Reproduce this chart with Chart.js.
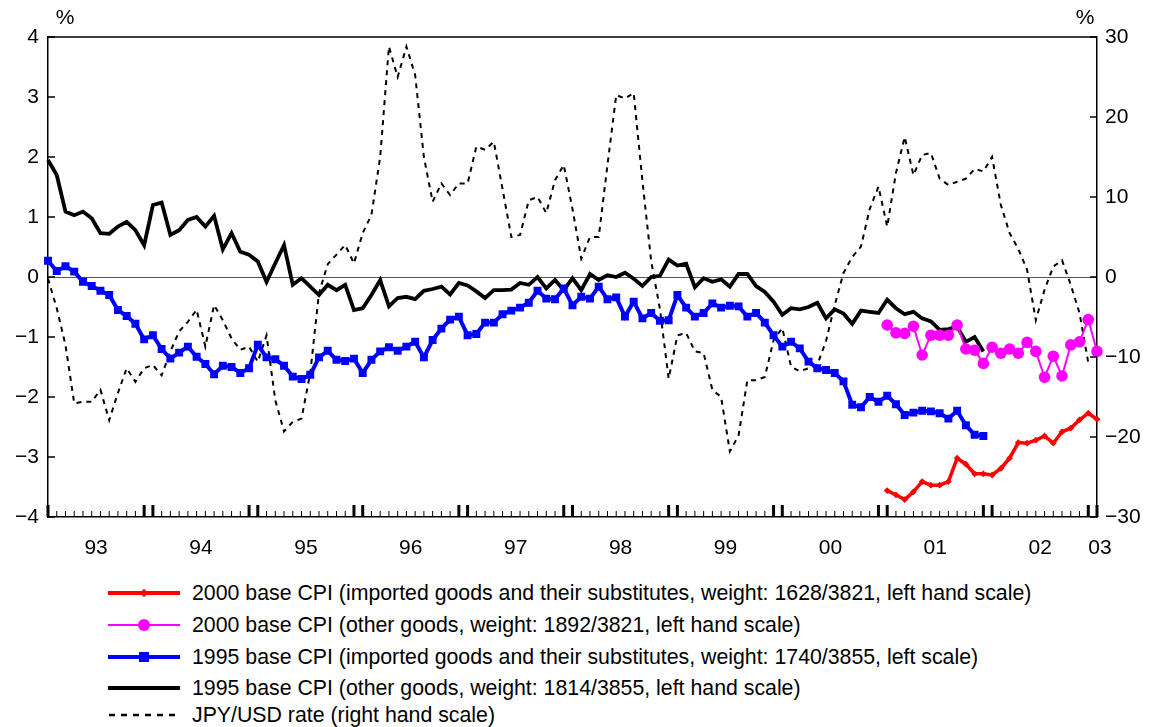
<!DOCTYPE html>
<html>
<head>
<meta charset="utf-8">
<script src="https://cdn.jsdelivr.net/npm/chart.js@4.4.3/dist/chart.umd.min.js"></script>
<style>
  body { margin:0; background:#fff; font-family:"Liberation Sans", Arial, sans-serif; }
  #wrap { position:relative; width:1159px; height:727px; }
  #chart { position:absolute; left:0; top:0; }
  .lg { position:absolute; left:108px; height:24px; display:flex; align-items:center; font-size:21.3px; color:#000; white-space:nowrap; }
  .lg svg { width:74px; height:24px; margin-right:10px; flex:none; }
</style>
</head>
<body>
<div id="wrap">
  <canvas id="chart" width="1159" height="570"></canvas>
  <div class="lg" style="top:581px"><svg viewBox="0 0 74 24"><line x1="0" y1="12" x2="72" y2="12" stroke="#ff0000" stroke-width="4"/><rect x="33" y="9" width="6" height="6" fill="#ff0000" transform="rotate(45 36 12)"/></svg>2000 base CPI (imported goods and their substitutes, weight: 1628/3821, left hand scale)</div>
  <div class="lg" style="top:613px"><svg viewBox="0 0 74 24"><line x1="0" y1="12" x2="72" y2="12" stroke="#ff00ff" stroke-width="2"/><circle cx="36" cy="12" r="6" fill="#ff00ff"/></svg>2000 base CPI (other goods, weight: 1892/3821, left hand scale)</div>
  <div class="lg" style="top:645px"><svg viewBox="0 0 74 24"><line x1="0" y1="12" x2="72" y2="12" stroke="#0000ff" stroke-width="4"/><rect x="31" y="7" width="10" height="10" fill="#0000ff"/></svg>1995 base CPI (imported goods and their substitutes, weight: 1740/3855, left scale)</div>
  <div class="lg" style="top:676px"><svg viewBox="0 0 74 24"><line x1="0" y1="12" x2="72" y2="12" stroke="#000" stroke-width="4"/></svg>1995 base CPI (other goods, weight: 1814/3855, left hand scale)</div>
  <div class="lg" style="top:703px"><svg viewBox="0 0 74 24"><line x1="1" y1="12" x2="72" y2="12" stroke="#000" stroke-width="2.5" stroke-dasharray="6,6"/></svg>JPY/USD rate (right hand scale)</div>
</div>
<script>
/* CPI y/y (%) vs JPY/USD y/y (%), monthly Jan 1993 - Jan 2003 */
const years = ['93','94','95','96','97','98','99','00','01','02','03'];
const monthNames = ['Jan','Feb','Mar','Apr','May','Jun','Jul','Aug','Sep','Oct','Nov','Dec'];
const months = [];
years.forEach((yy, k) => {
  const n = k === years.length - 1 ? 1 : 12;
  for (let m = 0; m < n; m++) months.push(monthNames[m] + ' ' + yy);
});

// left hand scale
const cpi95Other = [1.95,1.70,1.09,1.03,1.09,0.98,0.73,0.72,0.84,0.92,0.78,0.53,
  1.20,1.24,0.70,0.78,0.95,1.00,0.84,1.02,0.46,0.73,0.42,0.37,
  0.26,-0.08,0.23,0.53,-0.13,-0.02,-0.16,-0.30,-0.13,-0.22,-0.13,-0.55,
  -0.52,-0.30,-0.05,-0.49,-0.35,-0.33,-0.37,-0.23,-0.20,-0.16,-0.29,-0.10,
  -0.14,-0.24,-0.35,-0.22,-0.22,-0.21,-0.10,-0.13,0.00,-0.19,-0.05,-0.22,
  -0.02,-0.22,0.05,-0.05,0.03,0.00,0.07,-0.03,-0.15,0.00,0.02,0.29,
  0.19,0.22,-0.17,-0.02,-0.08,-0.04,-0.16,0.05,0.05,-0.15,-0.25,-0.41,
  -0.63,-0.52,-0.54,-0.50,-0.43,-0.69,-0.54,-0.61,-0.78,-0.56,-0.58,-0.60,
  -0.38,-0.52,-0.62,-0.58,-0.69,-0.74,-0.88,-0.87,-0.83,-1.08,-1.00,-1.24];
const cpi95Imported = [0.27,0.10,0.18,0.09,-0.08,-0.15,-0.23,-0.30,-0.55,-0.65,-0.78,-1.04,
  -0.97,-1.20,-1.36,-1.26,-1.16,-1.33,-1.45,-1.62,-1.48,-1.50,-1.60,-1.52,
  -1.13,-1.34,-1.37,-1.48,-1.66,-1.70,-1.63,-1.34,-1.23,-1.38,-1.40,-1.36,
  -1.60,-1.38,-1.24,-1.17,-1.23,-1.16,-1.08,-1.34,-1.05,-0.86,-0.71,-0.66,
  -0.97,-0.95,-0.76,-0.76,-0.62,-0.56,-0.51,-0.43,-0.23,-0.36,-0.37,-0.19,
  -0.47,-0.33,-0.36,-0.16,-0.37,-0.34,-0.66,-0.41,-0.69,-0.60,-0.73,-0.72,
  -0.30,-0.51,-0.66,-0.60,-0.44,-0.51,-0.48,-0.49,-0.66,-0.60,-0.76,-0.97,
  -1.16,-1.08,-1.19,-1.41,-1.52,-1.55,-1.60,-1.74,-2.13,-2.17,-2.00,-2.08,
  -1.98,-2.12,-2.30,-2.26,-2.23,-2.24,-2.27,-2.36,-2.23,-2.47,-2.63,-2.65];
// 2000 base series start Jan 2001
const base2000Start = 96;
const cpi00Imported = [-3.56,-3.63,-3.71,-3.58,-3.41,-3.47,-3.47,-3.41,-3.02,-3.12,-3.28,-3.28,
  -3.30,-3.19,-3.02,-2.76,-2.77,-2.72,-2.65,-2.77,-2.58,-2.52,-2.38,-2.27,-2.37];
const cpi00Other = [-0.80,-0.93,-0.94,-0.82,-1.30,-0.97,-0.97,-0.97,-0.80,-1.20,-1.22,-1.44,
  -1.17,-1.27,-1.20,-1.27,-1.09,-1.24,-1.67,-1.32,-1.65,-1.13,-1.08,-0.71,-1.24];
// right hand scale
const jpyUsd = [-0.2,-3.9,-8.5,-15.8,-15.6,-15.6,-14.1,-17.9,-14.5,-11.4,-13.1,-11.4,
  -11.0,-12.3,-9.3,-6.8,-5.6,-4.1,-8.7,-3.5,-5.4,-7.7,-9.1,-8.7,
  -10.6,-7.3,-15.4,-19.3,-18.1,-17.7,-12.0,-2.0,1.6,2.8,4.0,1.7,
  5.5,7.75,15.0,28.8,25.0,28.8,25.25,15.0,9.4,11.7,10.25,11.7,
  11.7,16.3,15.9,16.9,11.0,5.0,5.25,9.6,10.0,8.0,12.1,14.0,
  8.5,2.3,5.0,5.0,14.0,22.75,22.3,23.0,12.0,2.0,-4.0,-12.7,
  -7.3,-7.0,-9.3,-9.5,-14.1,-15.0,-21.8,-19.8,-12.9,-12.9,-12.5,-7.9,
  -6.4,-11.2,-11.8,-11.4,-11.0,-8.0,-3.5,0.5,2.5,3.8,8.5,11.3,
  6.3,13.0,17.5,12.75,15.25,15.5,12.3,11.5,11.9,12.3,13.5,13.2,
  15.0,9.0,5.5,3.5,0.9,-5.4,-1.6,1.3,2.1,-1.0,-4.5,-10.7];

const pad = (arr, start) => Array(start).fill(null).concat(arr);
const minus = v => String(v).replace('-', '\u2212');
const FONT = '"Liberation Sans", Arial, sans-serif';

const refPlugin = {
  id: 'ref',
  afterDraw(chart) {
    const { ctx, chartArea: a, scales: { x, y, y2 } } = chart;
    const line = (x1, y1, x2, y2_) => { ctx.beginPath(); ctx.moveTo(x1, y1); ctx.lineTo(x2, y2_); ctx.stroke(); };
    ctx.save();
    ctx.strokeStyle = '#000';
    ctx.lineWidth = 1.5;
    line(a.left, a.top, a.right, a.top);
    // monthly ticks, Dec/Jan heavy
    months.forEach((m, i) => {
      const px = x.getPixelForValue(i);
      const heavy = i % 12 === 0 || i % 12 === 11;
      ctx.lineWidth = heavy ? 3 : 1;
      line(px, a.bottom, px, a.bottom - (heavy ? 12 : 6));
    });
    ctx.lineWidth = 1.5;
    y.ticks.forEach(t => { const py = y.getPixelForValue(t.value); line(a.left, py, a.left + 7, py); });
    y2.ticks.forEach(t => { const py = y2.getPixelForValue(t.value); line(a.right, py, a.right - 7, py); });
    // year labels
    ctx.fillStyle = '#000';
    ctx.font = '21px ' + FONT;
    ctx.textAlign = 'center';
    ctx.textBaseline = 'middle';
    years.forEach((lab, k) => {
      const c = k * 12;
      const px = k < years.length - 1
        ? (x.getPixelForValue(c + 5) + x.getPixelForValue(c + 6)) / 2
        : x.getPixelForValue(c) + 3;
      ctx.fillText(lab, px, a.bottom + 31);
    });
    ctx.fillText('%', a.left + 17, 18);
    ctx.fillText('%', a.right - 12, 18);
    ctx.restore();
  }
};

new Chart(document.getElementById('chart'), {
  type: 'line',
  data: {
    labels: months,
    datasets: [
      { label: '2000 base CPI (imported goods and their substitutes, weight: 1628/3821, left hand scale)',
        data: pad(cpi00Imported, base2000Start), yAxisID: 'y',
        borderColor: '#ff0000', backgroundColor: '#ff0000', borderWidth: 3.5,
        pointStyle: 'rectRot', pointRadius: 3.4, pointBorderWidth: 0 },
      { label: '2000 base CPI (other goods, weight: 1892/3821, left hand scale)',
        data: pad(cpi00Other, base2000Start), yAxisID: 'y',
        borderColor: '#ff00ff', backgroundColor: '#ff00ff', borderWidth: 2,
        pointStyle: 'circle', pointRadius: 5.8, pointBorderWidth: 0 },
      { label: '1995 base CPI (imported goods and their substitutes, weight: 1740/3855, left scale)',
        data: cpi95Imported, yAxisID: 'y',
        borderColor: '#0000ff', backgroundColor: '#0000ff', borderWidth: 4,
        pointStyle: 'rect', pointRadius: 5.6, pointBorderWidth: 0 },
      { label: '1995 base CPI (other goods, weight: 1814/3855, left hand scale)',
        data: cpi95Other, yAxisID: 'y',
        borderColor: '#000', borderWidth: 3.8, pointRadius: 0 },
      { label: 'JPY/USD rate (right hand scale)',
        data: jpyUsd, yAxisID: 'y2',
        borderColor: '#000', borderWidth: 2, borderDash: [5, 5], pointRadius: 0 }
    ]
  },
  options: {
    responsive: false,
    animation: false,
    devicePixelRatio: 1,
    layout: { padding: { top: 37, left: 0, right: 0, bottom: 0 } },
    plugins: { legend: { display: false }, tooltip: { enabled: false } },
    elements: { line: { tension: 0, borderJoinStyle: 'miter' } },
    scales: {
      x: {
        type: 'category', offset: false,
        ticks: { display: false },
        grid: { drawOnChartArea: false, drawTicks: false },
        border: { display: true, color: '#000', width: 1.5 },
        afterFit: s => { s.height = 53; }
      },
      y: {
        position: 'left', min: -4, max: 4,
        ticks: { stepSize: 1, color: '#000', font: { size: 21, family: FONT }, padding: 9, callback: minus },
        grid: { drawTicks: false, color: c => c.tick && c.tick.value === 0 ? '#555' : 'rgba(0,0,0,0)', lineWidth: 1 },
        border: { display: true, color: '#000', width: 1.5 },
        afterFit: s => { s.width = 48; }
      },
      y2: {
        position: 'right', min: -30, max: 30,
        ticks: { stepSize: 10, color: '#000', font: { size: 21, family: FONT }, padding: 8, callback: minus },
        grid: { drawOnChartArea: false, drawTicks: false },
        border: { display: true, color: '#000', width: 1.5 },
        afterFit: s => { s.width = 62; }
      }
    }
  },
  plugins: [refPlugin]
});
</script>
</body>
</html>
